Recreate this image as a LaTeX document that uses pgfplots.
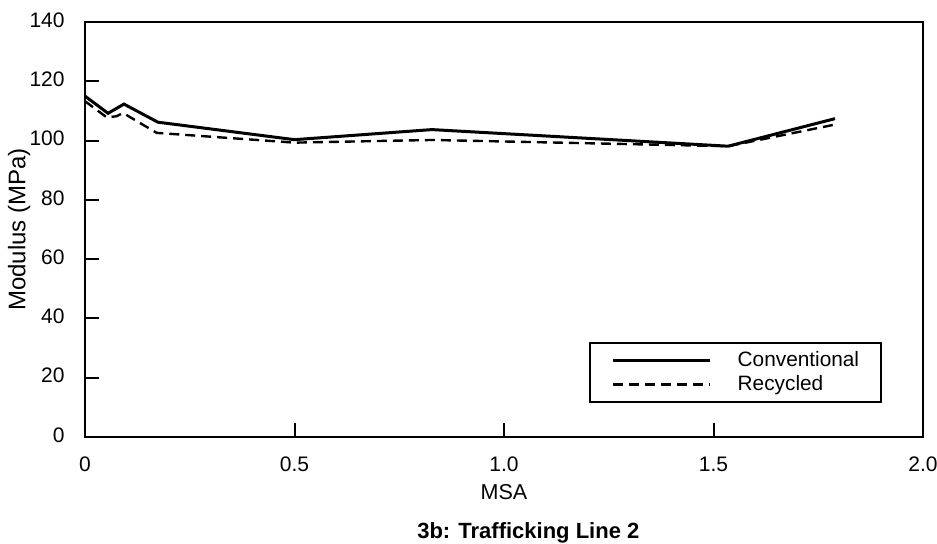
\documentclass[border=0pt]{standalone}
\usepackage{pgfplots}
\pgfplotsset{compat=1.18}
\usepackage{fontspec}
\setmainfont{Liberation Sans}
\begin{document}
\begin{tikzpicture}
\begin{axis}[
  at={(0,0)}, anchor=south west,
  scale only axis, width=419pt, height=207.5pt,
  xmin=0, xmax=2, ymin=0, ymax=140,
  xtick={0,0.5,1,1.5,2}, xticklabels={0,0.5,1.0,1.5,2.0},
  ytick={0,20,40,60,80,100,120,140},
  tick align=inside, tick pos=left,
  major tick length=7pt,
  every tick/.style={black, line width=1pt},
  axis line style={line width=1.2pt},
  /pgf/number format/assume math mode=true,
  tick label style={font=\fontsize{10.5}{12}\selectfont, inner sep=0pt},
  xticklabel style={anchor=base, yshift=-17.5pt},
  yticklabel style={anchor=east, xshift=-10pt, yshift=1pt},
  every axis y label/.style={at={(axis description cs:-0.0785,0.5)}, rotate=90, anchor=center, font=\fontsize{12}{14}\selectfont},
  every axis x label/.style={at={(axis description cs:0.5,-0.1518)}, anchor=base, font=\fontsize{10.75}{13}\selectfont},
  xlabel={MSA},
  ylabel={Modulus (MPa)},
  legend style={at={(rel axis cs:0.951,0.082)}, anchor=south east, draw=black, line width=0.8pt,
    inner xsep=11pt, inner ysep=3.5pt, row sep=1.5pt,
    nodes={inner sep=0pt, text height=8pt, text depth=2.5pt, font=\fontsize{10.4}{13}\selectfont}},
  legend cell align=left,
  legend image code/.code={\draw[#1] (0pt,0pt) -- (48.5pt,0pt); \path (61.5pt,0pt);},
  clip=false,
]
\addplot[black, line width=1.5pt] coordinates {
  (0,115.0) (0.055,109.2) (0.093,112.3) (0.174,106.2) (0.5,100.3)
  (0.828,103.7) (1.535,98.1) (1.79,107.4)
};
\addlegendentry{Conventional}
\addplot[black, line width=1.2pt, dash pattern=on 5pt off 3pt] coordinates {
  (0,113.3) (0.052,107.8) (0.075,108.2) (0.091,109.3) (0.171,102.6)
  (0.5,99.3) (0.828,100.2) (1.535,98.1) (1.79,105.4)
};
\addlegendentry{Recycled}
\node[anchor=base, font=\bfseries\fontsize{11}{13}\selectfont] at (axis description cs:0.529,-0.2434) {3b: Trafficking Line 2};
\end{axis}
\pgfresetboundingbox
\path[use as bounding box] (-42.5pt,-53.5pt) rectangle (426pt,218.5pt);
\end{tikzpicture}
\end{document}
